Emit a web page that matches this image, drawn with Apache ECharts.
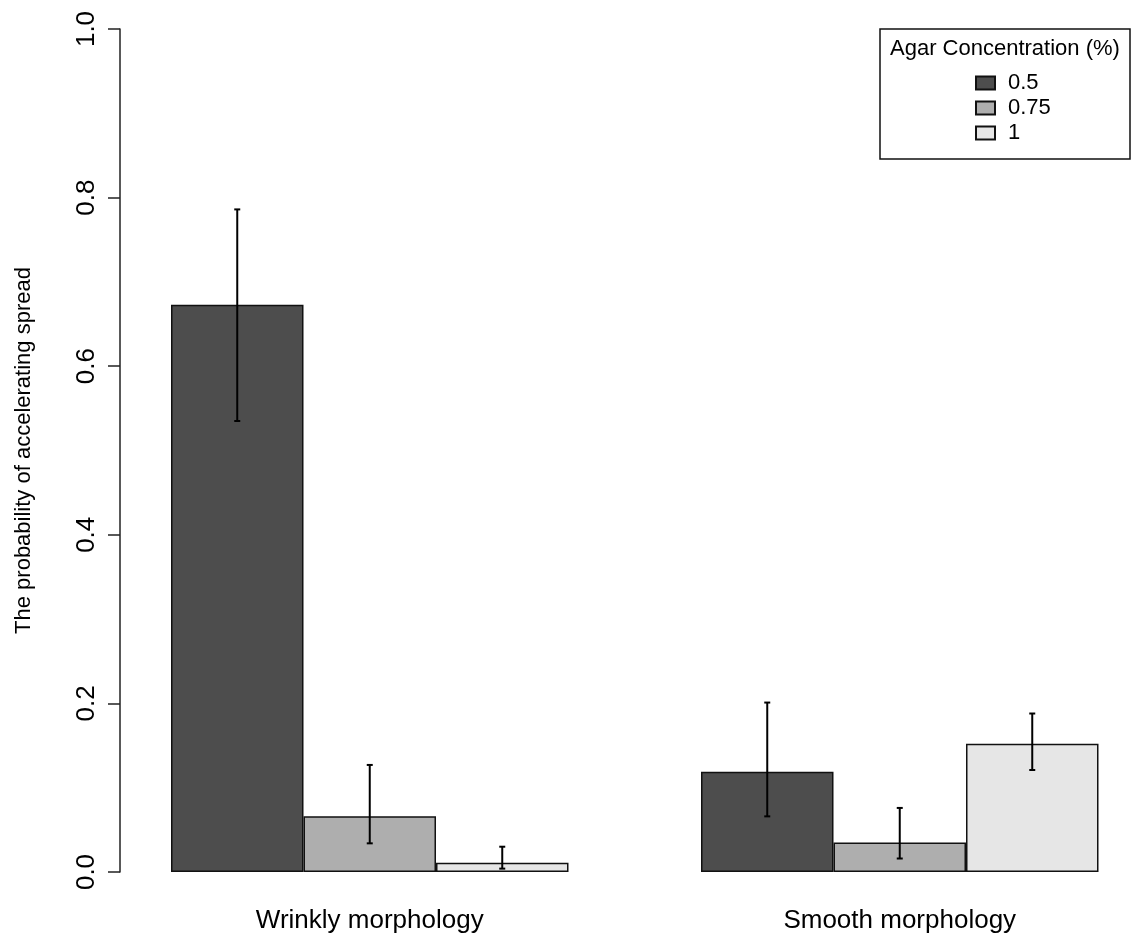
<!DOCTYPE html>
<html>
<head>
<meta charset="utf-8">
<script src="https://cdn.jsdelivr.net/npm/echarts@6/dist/echarts.min.js"></script>
<style>html,body{margin:0;padding:0;background:#fff;}#chart{width:1131px;height:940px;}</style>
</head>
<body>
<div id="chart"></div>
<script>
const categories = ['Wrinkly morphology', 'Smooth morphology'];
const concentrations = ['0.5', '0.75', '1'];
const mean05 = [0.673, 0.119];
const mean075 = [0.066, 0.035];
const mean1 = [0.011, 0.152];
const lower05 = [0.535, 0.066];
const upper05 = [0.786, 0.201];
const lower075 = [0.034, 0.016];
const upper075 = [0.127, 0.076];
const lower1 = [0.004, 0.121];
const upper1 = [0.030, 0.188];
const yTicks = [0, 0.2, 0.4, 0.6, 0.8, 1.0];
const barColors = ['#4D4D4D', '#AEAEAE', '#E6E6E6'];

const means = [mean05, mean075, mean1];
const lowers = [lower05, lower075, lower1];
const uppers = [upper05, upper075, upper1];

// R barplot(beside=TRUE) layout: each group = 1 empty slot + one slot per bar
const nSer = concentrations.length;
const perGroup = nSer + 1;
const nSlots = categories.length * perGroup;
const slotOf = (c, s) => c * perGroup + 1 + s;
const slotLabels = new Array(nSlots).fill('');
categories.forEach((name, c) => { slotLabels[slotOf(c, Math.floor(nSer / 2))] = name; });

const errData = [];
for (let s = 0; s < nSer; s++) {
  for (let c = 0; c < categories.length; c++) {
    errData.push([slotOf(c, s), lowers[s][c], uppers[s][c]]);
  }
}

const FONT = 'Liberation Sans, Arial, sans-serif';
const chart = echarts.init(document.getElementById('chart'), null, {renderer: 'canvas'});

const barSeries = concentrations.map((name, i) => {
  const d = new Array(nSlots).fill(null);
  categories.forEach((_, c) => { d[slotOf(c, i)] = means[i][c]; });
  return {
    name: name,
    type: 'bar',
    xAxisIndex: 0,
    yAxisIndex: 0,
    data: d,
    barWidth: '100%',
    barGap: '-100%',
    itemStyle: {color: barColors[i], borderColor: '#111', borderWidth: 1.5},
    emphasis: {disabled: true},
    z: 2
  };
});

const option = {
  animation: false,
  backgroundColor: '#fff',
  grid: [
    {left: 38.5, width: 1060, top: 29, bottom: 68, containLabel: false},
    {left: 120, width: 10, top: 29, bottom: 68, containLabel: false}
  ],
  xAxis: [
    {
      type: 'category', gridIndex: 0, data: slotLabels,
      axisLine: {show: false}, axisTick: {show: false},
      axisLabel: {fontFamily: FONT, fontSize: 26, color: '#000', margin: 36, interval: 0}
    },
    {type: 'value', gridIndex: 1, show: false, min: 0, max: 1}
  ],
  yAxis: [
    {type: 'value', gridIndex: 0, min: 0, max: 1, show: false, splitLine: {show: false}},
    {
      type: 'value', gridIndex: 1, min: 0, max: 1, interval: 0.2,
      position: 'left',
      name: 'The probability of accelerating spread',
      nameLocation: 'middle', nameGap: 85, nameRotate: 90,
      nameTextStyle: {fontFamily: FONT, fontSize: 22, color: '#000'},
      axisLine: {show: true, lineStyle: {color: '#222', width: 1.5}},
      axisTick: {show: true, length: 12, lineStyle: {color: '#222', width: 1.5}},
      splitLine: {show: false},
      axisLabel: {
        fontFamily: FONT, fontSize: 26, color: '#000', rotate: 90, margin: 20,
        formatter: v => {
          const t = yTicks.find(k => Math.abs(k - v) < 1e-9);
          return t === undefined ? '' : t.toFixed(1);
        }
      }
    }
  ],
  legend: {
    data: concentrations,
    orient: 'vertical',
    left: 970, top: 67,
    itemWidth: 19, itemHeight: 13, itemGap: 3,
    icon: 'rect',
    selectedMode: false,
    textStyle: {fontFamily: FONT, fontSize: 22, color: '#000', lineHeight: 22, padding: [0, 0, 0, 8]}
  },
  graphic: [
    {type: 'rect', shape: {x: 880, y: 29, width: 250, height: 130},
     style: {fill: 'none', stroke: '#111', lineWidth: 1.5}, z: 10},
    {type: 'text', x: 890, y: 49,
     style: {text: 'Agar Concentration (%)', font: '22px ' + FONT, fill: '#000', textVerticalAlign: 'middle'}, z: 10}
  ],
  series: barSeries.concat([{
    type: 'custom',
    name: 'err',
    xAxisIndex: 0, yAxisIndex: 0,
    data: errData,
    encode: {x: 0, y: [1, 2]},
    z: 5,
    renderItem: function (params, api) {
      const slot = api.value(0);
      const lo = api.coord([slot, api.value(1)]);
      const hi = api.coord([slot, api.value(2)]);
      const x = lo[0];
      const cap = 3;
      const st = {stroke: '#000', lineWidth: 2};
      return {
        type: 'group',
        children: [
          {type: 'line', shape: {x1: x, y1: lo[1], x2: x, y2: hi[1]}, style: st},
          {type: 'line', shape: {x1: x - cap, y1: lo[1], x2: x + cap, y2: lo[1]}, style: st},
          {type: 'line', shape: {x1: x - cap, y1: hi[1], x2: x + cap, y2: hi[1]}, style: st}
        ]
      };
    }
  }])
};
chart.setOption(option);
</script>
</body>
</html>
